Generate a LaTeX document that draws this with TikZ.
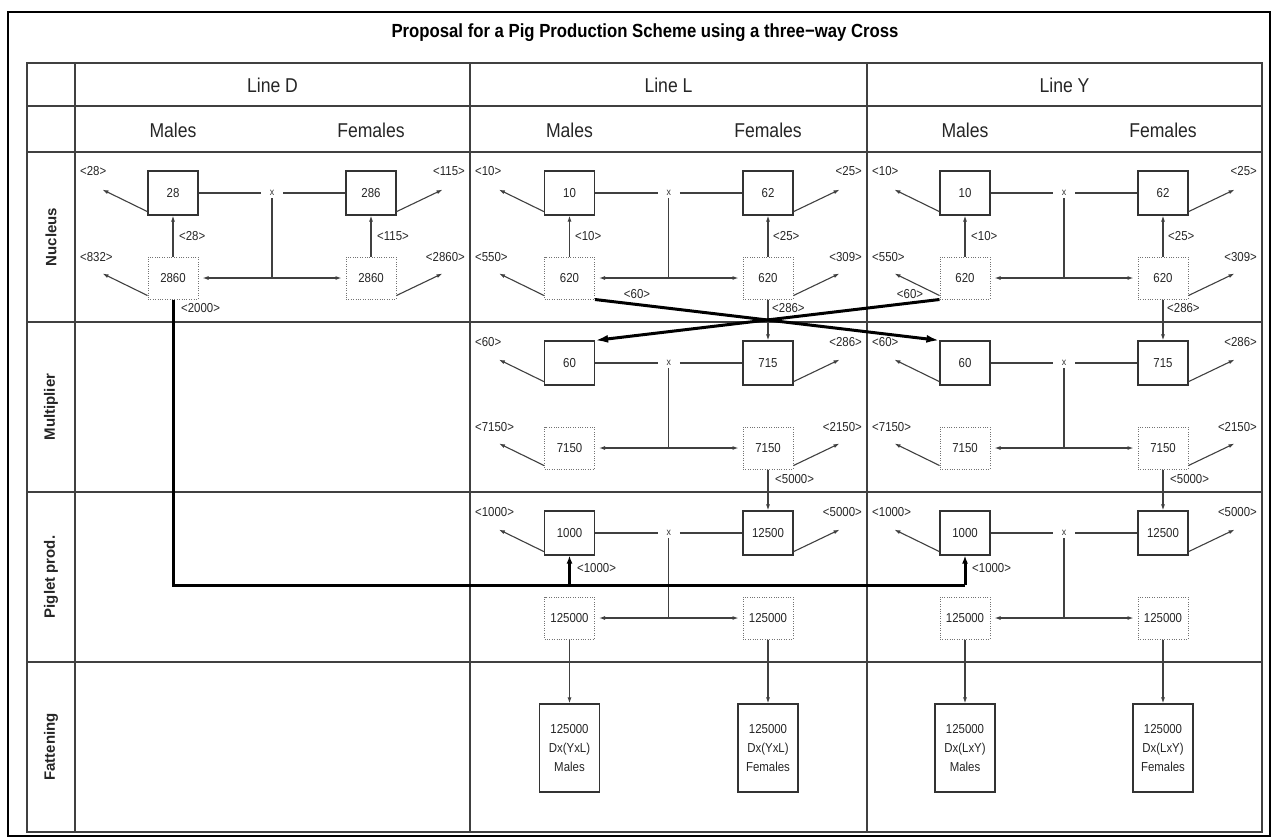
\documentclass[tikz,border=0pt]{standalone}
\usepackage{fontspec}
\setmainfont{Liberation Sans}
\newfontfamily\cond[FakeStretch=0.88]{Liberation Sans}
\usetikzlibrary{arrows.meta}
\newcommand\bxfont{\fontsize{13}{19}\selectfont\cond}
\newcommand\lbfont{\fontsize{13}{15}\selectfont\cond}
\newcommand\hdfont{\fontsize{20}{24}\selectfont\cond}
\tikzset{
  solidbox/.style={draw=black!80, line width=1.2pt, minimum width=50pt, minimum height=44pt, inner sep=0pt, font=\bxfont, text=black!85},
  dotbox/.style={draw=black!55, dash pattern=on 1pt off 1.4pt, line width=1pt, minimum width=50pt, minimum height=42pt, inner sep=0pt, font=\bxfont, text=black!85},
  fatbox/.style={draw=black!80, line width=1.2pt, minimum width=60pt, minimum height=88pt, inner sep=0pt, align=center, font=\bxfont, text=black!85},
  xmark/.style={inner sep=0pt, minimum width=22pt, minimum height=10pt, font=\fontsize{10}{10}\selectfont\cond, text=black!80},
  link/.style={draw=black!75, line width=1.1pt},
  flow/.style={link, -{Latex[length=6pt,width=4pt]}},
  heavy/.style={draw=black, line width=3pt, -{Latex[length=13pt,width=8pt]}},
  heavyline/.style={draw=black, line width=3pt},
  lab/.style={font=\lbfont, inner sep=0pt, text=black!85},
  hd/.style={font=\hdfont, text=black!85},
  rowlab/.style={font=\fontsize{15}{18}\selectfont\bfseries, rotate=90, text=black!85},
  grid/.style={draw=black!75, line width=1.3pt}
}
\newcommand\stage[8]{%
  \node[solidbox] (#1m) at (#2,#4+41) {#5};
  \node[solidbox] (#1f) at (#3,#4+41) {#6};
  \node[dotbox] (#1dm) at (#2,#4+126) {#7};
  \node[dotbox] (#1df) at (#3,#4+126) {#8};
  \node[xmark] (#1x) at ({(#2+#3)/2},#4+41) {x};
  \draw[link] (#1m) -- (#1x);
  \draw[link] (#1x) -- (#1f);
  \coordinate (#1j) at (#1x |- #1dm);
  \draw[link] (#1x) -- (#1j);
  \draw[link, {Latex[length=6pt,width=4pt]}-{Latex[length=6pt,width=4pt]}, shorten <=4pt, shorten >=4pt] (#1dm) -- (#1df);
}
\newcommand\outL[1]{\draw[flow] ([yshift=4pt]#1.south west) -- ++(-45,-22);}
\newcommand\outR[1]{\draw[flow] ([yshift=4pt]#1.south east) -- ++(46,-22);}
\begin{document}
\begin{tikzpicture}[x=1pt,y=-1pt]
\useasboundingbox (0,0) rectangle (1274,839);
\fill[white] (0,0) rectangle (1274,839);
% frame
\draw[line width=2.5pt] (8,12) rectangle (1270,836);
\node (title) at (645,33) {\fontsize{19}{22}\selectfont\cond\bfseries Proposal for a Pig Production Scheme using a three−way Cross};
% table
\draw[grid] (27,63) rectangle (1262,832);
\foreach \yy in {106,152,322,492,662} {\draw[grid] (27,\yy) -- (1262,\yy);}
\foreach \xx in {75,470,867} {\draw[grid] (\xx,63) -- (\xx,832);}
% headers
\node[hd] (hLD) at (272.5,85) {Line D};
\node[hd] (hLL) at (668.5,85) {Line L};
\node[hd] (hLY) at (1064.5,85) {Line Y};
\node[hd] (hDM) at (173,130) {Males};
\node[hd] (hDF) at (371,130) {Females};
\node[hd] (hLM) at (569.5,130) {Males};
\node[hd] (hLF) at (768,130) {Females};
\node[hd] (hYM) at (965,130) {Males};
\node[hd] (hYF) at (1163,130) {Females};
\node[rowlab] (rN) at (51,237) {Nucleus};
\node[rowlab] (rM) at (51,407) {Multiplier};
\node[rowlab] (rP) at (51,577) {Piglet prod.};
\node[rowlab] (rF) at (51,747) {Fattening};
% ---------- Line D
\stage{dn}{173}{371}{152}{28}{286}{2860}{2860}
\outL{dnm} \outR{dnf} \outL{dndm} \outR{dndf}
\draw[flow] (dndm.north) -- (dnm.south);
\draw[flow] (dndf.north) -- (dnf.south);
\node[lab,anchor=west] (dnmo) at (80,171) {<28>};
\node[lab,anchor=east] (dnfo) at (465,171) {<115>};
\node[lab,anchor=west] (dndmo) at (80,257) {<832>};
\node[lab,anchor=east] (dndfo) at (465,257) {<2860>};
\node[lab,anchor=west] (dnmu) at (179,236) {<28>};
\node[lab,anchor=west] (dnfu) at (377,236) {<115>};
\node[lab,anchor=west] (dnd) at (181,308) {<2000>};
% ---------- Line L
\stage{ln}{569.5}{768}{152}{10}{62}{620}{620}
\outL{lnm} \outR{lnf} \outL{lndm} \outR{lndf}
\draw[flow] (lndm.north) -- (lnm.south);
\draw[flow] (lndf.north) -- (lnf.south);
\node[lab,anchor=west] (lnmo) at (475,171) {<10>};
\node[lab,anchor=east] (lnfo) at (862,171) {<25>};
\node[lab,anchor=west] (lndmo) at (475,257) {<550>};
\node[lab,anchor=east] (lndfo) at (862,257) {<309>};
\node[lab,anchor=west] (lnmu) at (575,236) {<10>};
\node[lab,anchor=west] (lnfu) at (773,236) {<25>};
\node[lab] (ln60) at (637,294) {<60>};
\node[lab,anchor=west] (ln286) at (772,308) {<286>};
\stage{lm}{569.5}{768}{322}{60}{715}{7150}{7150}
\outL{lmm} \outR{lmf} \outL{lmdm} \outR{lmdf}
\node[lab,anchor=west] (lmmo) at (475,342) {<60>};
\node[lab,anchor=east] (lmfo) at (862,342) {<286>};
\node[lab,anchor=west] (lmdmo) at (475,427) {<7150>};
\node[lab,anchor=east] (lmdfo) at (862,427) {<2150>};
\node[lab,anchor=west] (lm5k) at (775,479) {<5000>};
\stage{lp}{569.5}{768}{492}{1000}{12500}{125000}{125000}
\outL{lpm} \outR{lpf}
\node[lab,anchor=west] (lpmo) at (475,512) {<1000>};
\node[lab,anchor=east] (lpfo) at (862,512) {<5000>};
\node[lab,anchor=west] (lp1k) at (577,568) {<1000>};
\node[fatbox] (lfm) at (569.5,748) {125000\\Dx(YxL)\\Males};
\node[fatbox] (lff) at (768,748) {125000\\Dx(YxL)\\Females};
\draw[flow] (lndf.south) -- (lmf.north);
\draw[flow] (lmdf.south) -- (lpf.north);
\draw[flow] (lpdm.south) -- (lfm.north);
\draw[flow] (lpdf.south) -- (lff.north);
% ---------- Line Y
\stage{yn}{965}{1163}{152}{10}{62}{620}{620}
\outL{ynm} \outR{ynf} \outL{yndm} \outR{yndf}
\draw[flow] (yndm.north) -- (ynm.south);
\draw[flow] (yndf.north) -- (ynf.south);
\node[lab,anchor=west] (ynmo) at (872,171) {<10>};
\node[lab,anchor=east] (ynfo) at (1257,171) {<25>};
\node[lab,anchor=west] (yndmo) at (872,257) {<550>};
\node[lab,anchor=east] (yndfo) at (1257,257) {<309>};
\node[lab,anchor=west] (ynmu) at (971,236) {<10>};
\node[lab,anchor=west] (ynfu) at (1168,236) {<25>};
\node[lab] (yn60) at (910,294) {<60>};
\node[lab,anchor=west] (yn286) at (1167,308) {<286>};
\stage{ym}{965}{1163}{322}{60}{715}{7150}{7150}
\outL{ymm} \outR{ymf} \outL{ymdm} \outR{ymdf}
\node[lab,anchor=west] (ymmo) at (872,342) {<60>};
\node[lab,anchor=east] (ymfo) at (1257,342) {<286>};
\node[lab,anchor=west] (ymdmo) at (872,427) {<7150>};
\node[lab,anchor=east] (ymdfo) at (1257,427) {<2150>};
\node[lab,anchor=west] (ym5k) at (1170,479) {<5000>};
\stage{yp}{965}{1163}{492}{1000}{12500}{125000}{125000}
\outL{ypm} \outR{ypf}
\node[lab,anchor=west] (ypmo) at (872,512) {<1000>};
\node[lab,anchor=east] (ypfo) at (1257,512) {<5000>};
\node[lab,anchor=west] (yp1k) at (972,568) {<1000>};
\node[fatbox] (yfm) at (965,748) {125000\\Dx(LxY)\\Males};
\node[fatbox] (yff) at (1163,748) {125000\\Dx(LxY)\\Females};
\draw[flow] (yndf.south) -- (ymf.north);
\draw[flow] (ymdf.south) -- (ypf.north);
\draw[flow] (ypdm.south) -- (yfm.north);
\draw[flow] (ypdf.south) -- (yff.north);
% ---------- heavy connectors
\draw[heavy] (lndm.south east) -- (ymm.north west);
\draw[heavy] (yndm.south west) -- (lmm.north east);
\coordinate (dbend) at (173,585);
\coordinate (lj) at (569.5,585);
\coordinate (yj) at (965,585);
\draw[heavyline] (dndm.south) -- (dbend) -- (yj);
\draw[draw=black, line width=3pt, -{Latex[length=8pt,width=6pt]}] (yj) -- (ypm.south);
\draw[draw=black, line width=3pt, -{Latex[length=8pt,width=6pt]}] (lj) -- (lpm.south);
\end{tikzpicture}
\end{document}
